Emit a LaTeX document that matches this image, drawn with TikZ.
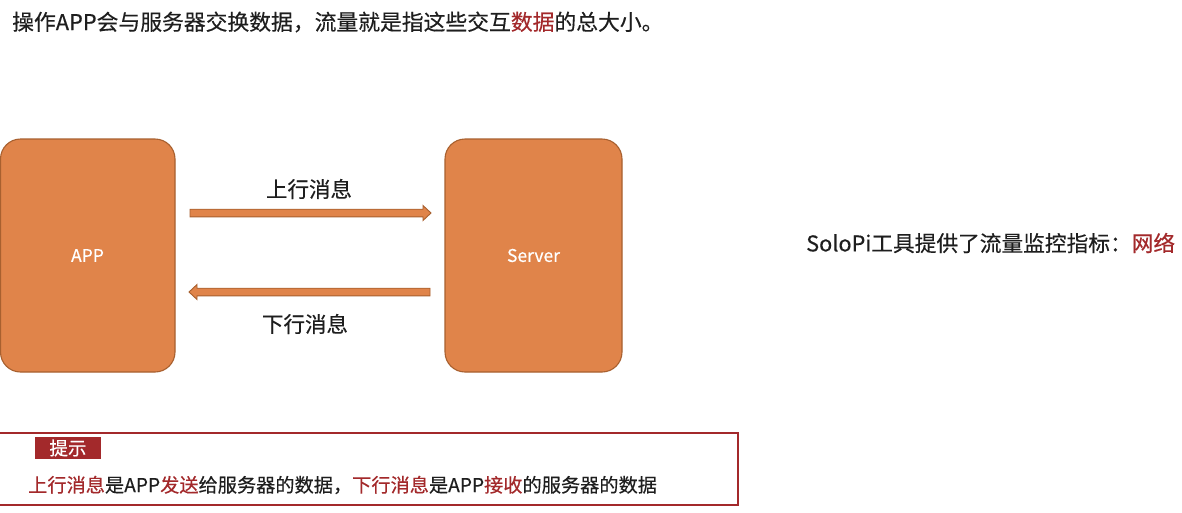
\documentclass[tikz,border=0pt]{standalone}
\usepackage{fontspec}
\setmainfont{Noto Sans CJK SC}[FakeBold=0.35,AutoFakeBold=0.35]
\usetikzlibrary{calc}
\definecolor{boxfill}{HTML}{E0844A}
\definecolor{boxedge}{HTML}{A8602F}
\definecolor{accent}{HTML}{A3292B}
\definecolor{ink}{HTML}{1E1E1E}
\tikzset{
  block/.style={draw=boxedge, fill=boxfill, line width=1.1pt, rounded corners=20pt},
  blocklabel/.style={text=white, font=\fontsize{17.5}{20}\selectfont},
  flowlabel/.style={text=ink, font=\fontsize{21.5}{24}\selectfont},
  bodytext/.style={text=ink, anchor=west, inner sep=0pt},
  shaft/.style={fill=boxfill, draw=boxedge, line width=0.9pt, line join=miter},
}
\newcommand{\hl}[1]{\textcolor{accent}{#1}}
\begin{document}
\begin{tikzpicture}[x=1pt, y=-1pt]
\useasboundingbox (0,0) rectangle (1182,512);
\fill[white] (0,0) rectangle (1182,512);

% headline
\node[bodytext, font=\fontsize{21.8}{25}\selectfont] (title) at (12,22)
  {操作APP会与服务器交换数据，流量就是指这些交互\hl{数据}的总大小。};

% the two endpoints
\draw[block] (0.5,139) rectangle (175,372);
\node[blocklabel] (app) at (87.5,255.5) {APP};
\coordinate (appE) at (175,255.5);
\draw[block] (445,139) rectangle (622,372);
\node[blocklabel] (server) at (533.5,255.5) {Server};
\coordinate (srvW) at (445,255.5);

% upstream arrow (APP -> Server)
\coordinate (upS) at ($(appE |- 0,213)+(15,0)$);
\coordinate (upE) at ($(srvW |- 0,213)+(-14,0)$);
\draw[shaft] ($(upS)+(0,-3.8)$) -- ($(upE)+(-8,-3.8)$) -- ($(upE)+(-8,-7.5)$)
  -- (upE) -- ($(upE)+(-8,7.5)$) -- ($(upE)+(-8,3.8)$) -- ($(upS)+(0,3.8)$) -- cycle;
\node[flowlabel] (uplabel) at (309,189) {上行消息};

% downstream arrow (Server -> APP)
\coordinate (dnS) at ($(srvW |- 0,292)+(-15,0)$);
\coordinate (dnE) at ($(appE |- 0,292)+(14,0)$);
\draw[shaft] ($(dnS)+(0,-3.8)$) -- ($(dnE)+(8,-3.8)$) -- ($(dnE)+(8,-7.5)$)
  -- (dnE) -- ($(dnE)+(8,7.5)$) -- ($(dnE)+(8,3.8)$) -- ($(dnS)+(0,3.8)$) -- cycle;
\node[flowlabel] (dnlabel) at (305,324) {下行消息};

% side note
\node[bodytext, font=\fontsize{21.7}{24}\selectfont] (solopi) at (806,243)
  {SoloPi工具提供了流量监控指标：\hl{网络}};

% hint panel
\draw[accent, line width=1.1pt] (-2,433) rectangle (738,505);
\node[fill=accent, text=white, minimum width=66pt, minimum height=22pt, inner sep=0pt,
  font=\fontsize{18.5}{20}\selectfont] (tip) at (68,448) {提示};
\node[bodytext, font=\fontsize{19.2}{22}\selectfont] (tiptext) at (28,485)
  {\hl{上行消息}是APP\hl{发送}给服务器的数据，\hl{下行消息}是APP\hl{接收}的服务器的数据};
\end{tikzpicture}
\end{document}
